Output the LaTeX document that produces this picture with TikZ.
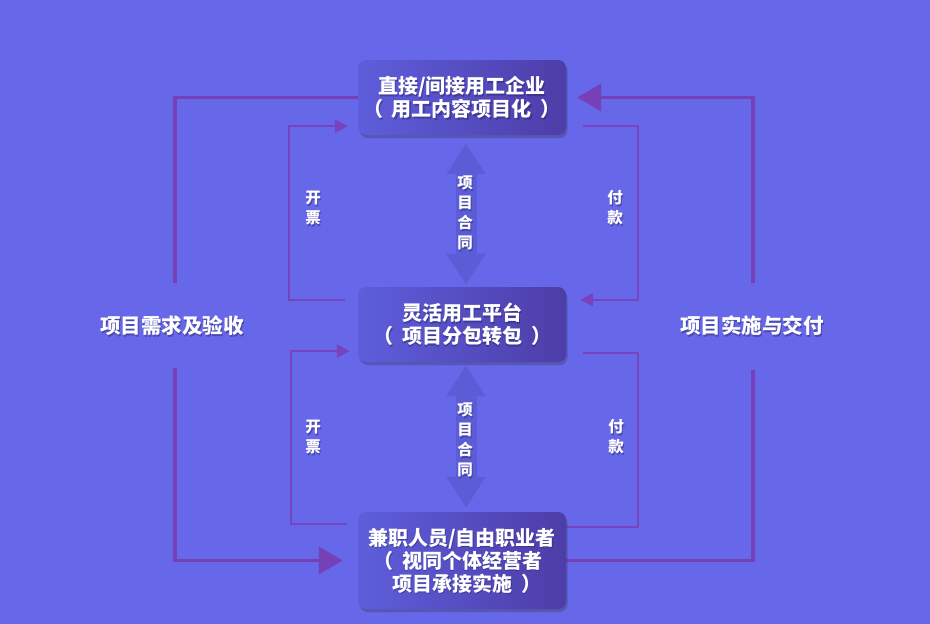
\documentclass[tikz,border=0pt]{standalone}
\usepackage{fontspec}
\setmainfont{Noto Sans CJK SC}[Kerning=Off]
\usetikzlibrary{arrows.meta,shadows,calc}
\definecolor{bg}{HTML}{6767EA}
\definecolor{boxL}{HTML}{5E5EDC}
\definecolor{boxR}{HTML}{4D3DA8}
\definecolor{linec}{HTML}{7640B6}
\definecolor{innerc}{HTML}{7844BE}
\definecolor{arrowc}{HTML}{5C5CD6}
\definecolor{shc}{HTML}{1E1E60}
\newcommand\LPar{\kern-0.45em（\kern0.45em}
\newcommand\RPar{\kern0.45em）\kern-0.45em}
\newcommand\shd[1]{\leavevmode\rlap{\kern1pt\raisebox{-1.8pt}[0pt][0pt]{\pgfsetfillopacity{0.4}\textcolor{shc}{#1}\pgfsetfillopacity{1}}}#1}
\pgfdeclarelayer{bglayer}
\pgfdeclarelayer{back}
\pgfsetlayers{bglayer,back,main}
\begin{document}
\begin{tikzpicture}[x=1pt,y=-1pt,
  box/.style={rounded corners=8pt, minimum width=208pt, text width=204pt, align=center,
    left color=boxL, right color=boxR, text=white, inner sep=0pt,
    font=\fontsize{20}{23}\selectfont\bfseries,
    drop shadow={shadow xshift=1.5pt, shadow yshift=-3pt, opacity=0.3, fill=black!80}},
  outer/.style={draw=linec, line width=3.2pt},
  inner/.style={draw=innerc, line width=2.4pt},
  lab/.style={text=white, align=center, inner sep=0pt, font=\fontsize{15.5}{20}\selectfont\bfseries},
  biglab/.style={text=white, inner sep=0pt, font=\fontsize{20.5}{24}\selectfont\bfseries},
  dbl/.style={draw=arrowc, line width=21pt,
    {Triangle[length=31pt,width=37pt]}-{Triangle[length=31pt,width=37pt]}},
  bigtip/.style={-{Triangle[length=24pt,width=27pt]}},
  smalltip/.style={-{Triangle[length=13pt,width=13pt]}}
]
\begin{pgfonlayer}{bglayer}
\fill[bg] (0,0) rectangle (930,624);
\end{pgfonlayer}
\useasboundingbox (0,0) rectangle (930,624);

% boxes
\node[box, minimum height=75pt] (t) at (462,97.5) {\shd{直接/间接用工企业}\\\shd{\LPar 用工内容项目化\RPar}};
\node[box, minimum height=75pt] (m) at (462,324.5) {\shd{灵活用工平台}\\\shd{\LPar 项目分包转包\RPar}};
\node[box, minimum height=97pt] (b) at (462,560.5) {\shd{兼职人员/自由职业者}\\\shd{\LPar 视同个体经营者}\\\shd{项目承接实施\RPar}};

% corner coordinates of connectors
\coordinate (OL1) at (175,283);
\coordinate (OL2) at (175,368);
\coordinate (OR1) at (753,370);
\coordinate (OR2) at (753,283);
\coordinate (IUL) at (289,213);
\coordinate (IUR) at (638,213);
\coordinate (ILL) at (291,440);
\coordinate (ILR) at (638,440);

\begin{pgfonlayer}{back}
% outer connectors
\draw[outer] (t.west) -| (OL1);
\draw[outer, bigtip, shorten >=15pt] (OL2) |- (b.west);
\draw[outer] (b.east) -| (OR1);
\draw[outer, bigtip, shorten >=11pt] (OR2) |- (t.east);

% inner connectors
\draw[inner, smalltip] ([xshift=-13pt,yshift=-13pt]m.north west) -| (IUL) |- ([xshift=-10pt,yshift=9pt]t.south west);
\draw[inner, smalltip] ([xshift=17pt,yshift=9pt]t.south east) -| (IUR) |- ([xshift=14pt,yshift=-13pt]m.north east);
\draw[inner, smalltip] ([xshift=-11pt,yshift=-12pt]b.north west) -| (ILL) |- ([xshift=-8pt,yshift=11pt]m.south west);
\draw[inner] ([xshift=17pt,yshift=9pt]m.south east) -| (ILR) |- ([yshift=-15pt]b.north east);

% double arrows
\draw[dbl] ([xshift=4pt,yshift=-8pt]t.south) -- ([xshift=4pt,yshift=2pt]m.north);
\draw[dbl] ([xshift=4pt,yshift=-3pt]m.south) -- ([xshift=4pt,yshift=4pt]b.north);
\end{pgfonlayer}

% labels
\node[lab] (ua) at (465,213) {\shd{项}\\\shd{目}\\\shd{合}\\\shd{同}};
\node[lab] (la) at (465,440) {\shd{项}\\\shd{目}\\\shd{合}\\\shd{同}};
\node[lab] (kp1) at (313,208) {\shd{开}\\\shd{票}};
\node[lab] (fk1) at (615,208) {\shd{付}\\\shd{款}};
\node[lab] (kp2) at (313,437) {\shd{开}\\\shd{票}};
\node[lab] (fk2) at (616,437) {\shd{付}\\\shd{款}};
\node[biglab] (req) at (172,326) {\shd{项目需求及验收}};
\node[biglab] (del) at (752,326) {\shd{项目实施与交付}};
\end{tikzpicture}
\end{document}
